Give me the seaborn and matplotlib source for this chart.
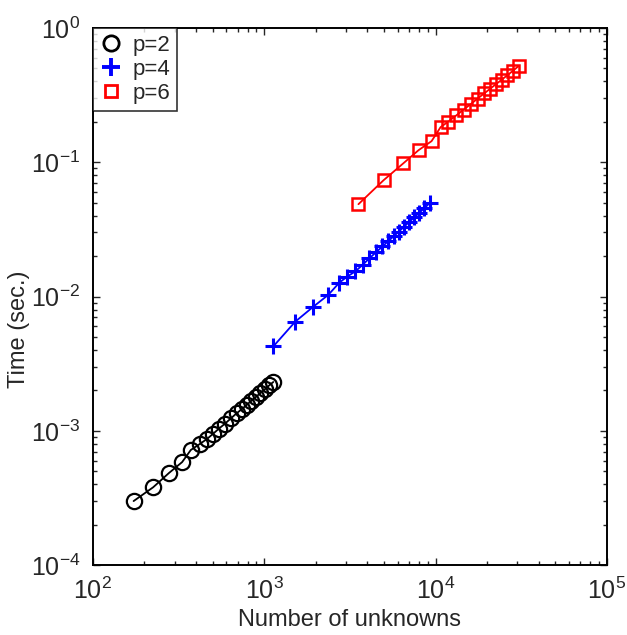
import numpy as np
import pandas as pd
import matplotlib
matplotlib.use("Agg")
import matplotlib.pyplot as plt
from matplotlib.lines import Line2D
import seaborn as sns

# values (log-log)
n_p2 = [173, 225, 278, 332, 373, 422, 464, 503, 545, 590, 640, 690, 740,
        790, 840, 895, 950, 1010, 1070, 1130]
t_p2 = [3.0e-4, 3.8e-4, 4.85e-4, 5.85e-4, 7.2e-4, 8.0e-4, 8.7e-4, 9.5e-4,
        1.04e-3, 1.13e-3, 1.24e-3, 1.35e-3, 1.45e-3, 1.56e-3, 1.67e-3,
        1.79e-3, 1.91e-3, 2.04e-3, 2.18e-3, 2.31e-3]

n_p4 = [1130, 1518, 1935, 2368, 2747, 3058, 3404, 3750, 4100, 4500, 4900,
        5300, 5700, 6100, 6550, 7000, 7500, 8000, 8600, 9300]
t_p4 = [4.25e-3, 6.5e-3, 8.4e-3, 1.03e-2, 1.27e-2, 1.41e-2, 1.54e-2,
        1.72e-2, 1.92e-2, 2.14e-2, 2.36e-2, 2.59e-2, 2.81e-2, 3.04e-2,
        3.31e-2, 3.58e-2, 3.88e-2, 4.18e-2, 4.55e-2, 5.0e-2]

n_p6 = [3548, 4970, 6500, 7960, 9480, 10700, 11750, 13200, 14600, 16100,
        17600, 19200, 20800, 22500, 24300, 26200, 28200, 30500]
t_p6 = [0.0487, 0.0734, 0.0984, 0.123, 0.1436, 0.1825, 0.199, 0.223, 0.247,
        0.272, 0.298, 0.325, 0.352, 0.381, 0.411, 0.444, 0.478, 0.52]

labels = ["p=2", "p=4", "p=6"]
colors = ["black", "blue", "red"]
markers = ["o", "+", "s"]
sizes = [11, 12, 8.5]
edge_w = [1.6, 2.2, 1.8]

sns.set_style("ticks")
plt.rcParams["font.family"] = ["Liberation Sans", "DejaVu Sans"]
plt.rcParams["mathtext.fontset"] = "custom"
plt.rcParams["mathtext.rm"] = "Liberation Sans"

df = pd.DataFrame({
    "n": n_p2 + n_p4 + n_p6,
    "t": t_p2 + t_p4 + t_p6,
    "p": ["p=2"] * len(n_p2) + ["p=4"] * len(n_p4) + ["p=6"] * len(n_p6),
})

fig = plt.figure(figsize=(6.27, 6.35), dpi=100)
ax = fig.add_axes([0.148, 0.110, 0.820, 0.846])

for lab, col, mk, ms, mw in zip(labels, colors, markers, sizes, edge_w):
    sns.lineplot(data=df[df["p"] == lab], x="n", y="t", ax=ax, color=col,
                 marker=mk, markersize=ms, markerfacecolor="none",
                 markeredgecolor=col, markeredgewidth=mw, linewidth=1.3,
                 estimator=None, sort=False)

ax.set_xscale("log")
ax.set_yscale("log")
ax.set_xlim(1e2, 1e5)
ax.set_ylim(1e-4, 1e0)

ax.tick_params(which="both", direction="in", top=True, right=True,
               labelsize=18, width=1)
ax.tick_params(axis="x", which="major", pad=9)
ax.tick_params(axis="y", which="major", pad=9)
ax.tick_params(which="major", length=5)
ax.tick_params(which="minor", length=3)
for s in ax.spines.values():
    s.set_linewidth(1.4)
    s.set_color("black")

ax.set_xlabel("Number of unknowns", fontsize=17)
ax.set_ylabel("Time (sec.)", fontsize=17)
ax.xaxis.set_label_coords(0.5, -0.082)
ax.yaxis.set_label_coords(-0.122, 0.44)

handles = [Line2D([], [], color=c, marker=m, linestyle="none", markersize=s,
                  markerfacecolor="none", markeredgewidth=w)
           for c, m, s, w in zip(colors, markers, [11, 13, 9], [2, 2.8, 2])]
leg = ax.legend(handles, labels, loc="upper left", fontsize=16,
                frameon=True, fancybox=False, borderaxespad=0,
                handlelength=1.0, handletextpad=0.5, labelspacing=0.15,
                borderpad=0.3)
leg.get_frame().set_edgecolor("black")
leg.get_frame().set_linewidth(1.2)

fig.savefig("out.png", dpi=100)
